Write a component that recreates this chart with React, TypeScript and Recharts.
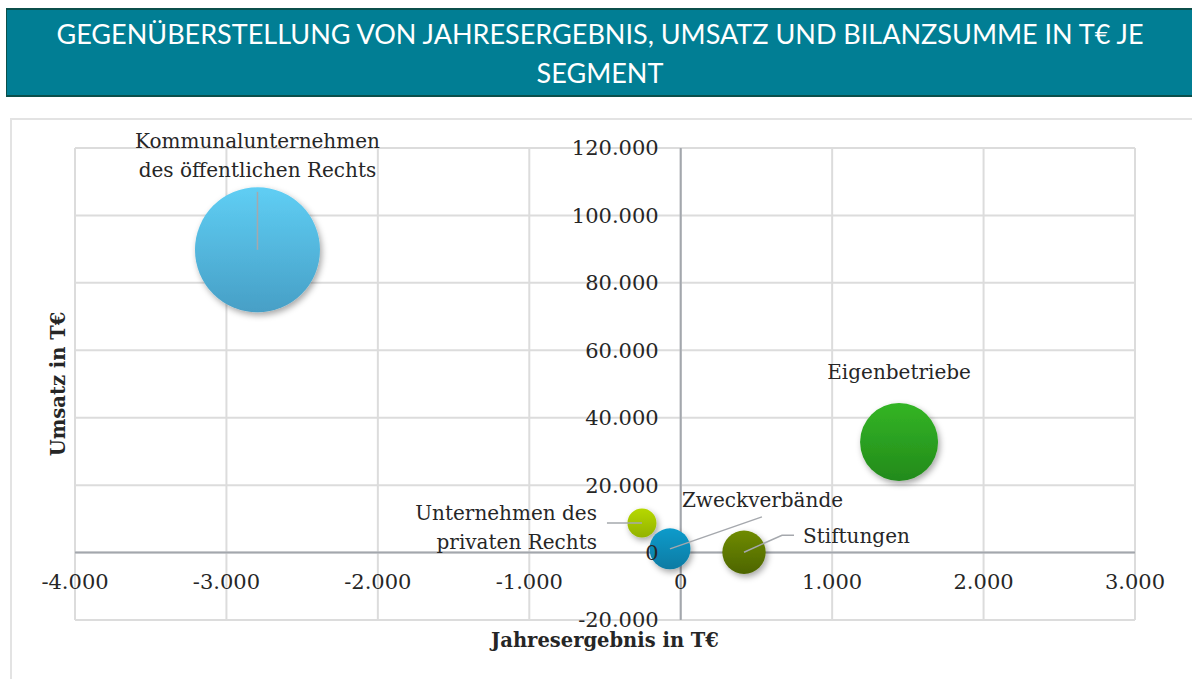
import { ScatterChart, Scatter, XAxis, YAxis, ZAxis, CartesianGrid, ReferenceLine, ReferenceDot } from 'recharts'

const segments = [
  'Kommunalunternehmen des öffentlichen Rechts',
  'Eigenbetriebe',
  'Unternehmen des privaten Rechts',
  'Zweckverbände',
  'Stiftungen',
]
const jahresergebnis = [-2795, 1442, -256, -71, 418]
const umsatz = [89800, 32800, 8800, 1100, 100]
const bilanzsumme = [930000, 362000, 50000, 100000, 112000]

const xTicks = [-4000, -3000, -2000, -1000, 0, 1000, 2000, 3000]
const yTicks = [-20000, 0, 20000, 40000, 60000, 80000, 100000, 120000]

const colors = [
  ['#5fcef4', '#479fc6'],
  ['#33b525', '#238a1b'],
  ['#b6d800', '#93b300'],
  ['#0d9bcb', '#0a7ba3'],
  ['#6f8b00', '#4d6500'],
]

// label lines and text placement relative to bubble centre
const labelLayout = [
  { lines: ['Kommunalunternehmen', 'des öffentlichen Rechts'], dx: 0, dy: -102, anchor: 'middle', leader: [[0, 0], [0, -58]] },
  { lines: ['Eigenbetriebe'], dx: 0, dy: -63, anchor: 'middle', leader: null },
  { lines: ['Unternehmen des', 'privaten Rechts'], dx: -45, dy: -3, anchor: 'end', leader: [[0, 0], [-35, 0]] },
  { lines: ['Zweckverbände'], dx: 12, dy: -42, anchor: 'start', leader: [[0, 0], [92, -32]] },
  { lines: ['Stiftungen'], dx: 59, dy: -9, anchor: 'start', leader: [[0, 0], [38, -17], [50, -17]] },
]

const data = segments.map((name, i) => ({ name, x: jahresergebnis[i], y: umsatz[i], z: bilanzsumme[i], i }))

const fmt = (v: number) => {
  const s = String(Math.abs(v)).replace(/\B(?=(\d{3})+(?!\d))/g, '.')
  return v < 0 ? '-' + s : s
}

const FONT = '"DejaVu Serif", serif'

function Bubble(props: any) {
  const { cx, cy, width, payload } = props
  const i = payload.i
  const r = width / 2
  const lay = labelLayout[i]
  return (
    <g>
      <circle cx={cx} cy={cy} r={r} fill={`url(#bg${i})`} filter="url(#shadow)" />
      {lay.leader && (
        <polyline
          points={lay.leader.map(([a, b]) => `${cx + a},${cy + b}`).join(' ')}
          fill="none" stroke="#a5a8ad" strokeWidth={1.5}
        />
      )}
      <text x={cx + lay.dx} y={cy + lay.dy} textAnchor={lay.anchor} fontFamily={FONT} fontSize={20} fill="#262626">
        {lay.lines.map((l, k) => (
          <tspan key={k} x={cx + lay.dx} dy={k === 0 ? 0 : 29}>{l}</tspan>
        ))}
      </text>
    </g>
  )
}

export default function App() {
  return (
    <div style={{ position: 'absolute', left: 0, top: 0, width: 1192, height: 679, overflow: 'hidden', background: '#fff' }}>
      <div style={{
        position: 'absolute', left: 6, top: 8, width: 1190, height: 89, background: '#017e94',
        borderTop: '2px solid #0b4f4b', borderBottom: '2px solid #0b4f4b', borderLeft: '1px solid #0b4f4b',
        color: '#fff', fontFamily: 'Lato, sans-serif', fontSize: 27, lineHeight: '39px', textAlign: 'center',
        paddingTop: 4, boxSizing: 'border-box',
      }}>
        <div style={{ width: 1186 }}>GEGENÜBERSTELLUNG VON JAHRESERGEBNIS, UMSATZ UND BILANZSUMME IN T€ JE<br />SEGMENT</div>
      </div>
      <div style={{ position: 'absolute', left: 10, top: 118, width: 1200, height: 600, border: '2px solid #e3e3e3' }} />
      <div style={{ position: 'absolute', top: 100, left: 0 }}>
        <ScatterChart width={1192} height={579} margin={{ top: 48, right: 57, bottom: 59, left: 75 }}>
          <defs>
            {colors.map((c, i) => (
              <linearGradient key={i} id={`bg${i}`} x1="0" y1="0" x2="0" y2="1">
                <stop offset="0%" stopColor={c[0]} />
                <stop offset="100%" stopColor={c[1]} />
              </linearGradient>
            ))}
            <filter id="shadow" x="-30%" y="-30%" width="160%" height="160%">
              <feDropShadow dx="2" dy="3" stdDeviation="3" floodColor="#000" floodOpacity="0.35" />
            </filter>
          </defs>
          <CartesianGrid stroke="#dcdcdc" strokeWidth={2} />
          <XAxis type="number" dataKey="x" domain={[-4000, 3000]} ticks={xTicks} hide />
          <YAxis type="number" dataKey="y" domain={[-20000, 120000]} ticks={yTicks} hide />
          <ZAxis type="number" dataKey="z" domain={[0, 930000]} range={[0, Math.PI * 62.5 * 62.5]} />
          <ReferenceLine x={0} stroke="#a3a7ad" strokeWidth={2} />
          <ReferenceLine y={0} stroke="#a3a7ad" strokeWidth={2} />
          {yTicks.map((v) => (
            <ReferenceDot key={'y' + v} x={0} y={v} r={0} stroke="none" fill="none"
              label={{ value: fmt(v), position: 'left', offset: 22, fontFamily: FONT, fontSize: 21, fill: '#262626' }} />
          ))}
          {xTicks.map((v) => (
            <ReferenceDot key={'x' + v} x={v} y={0} r={0} stroke="none" fill="none"
              label={{ value: fmt(v), position: 'bottom', offset: 22, fontFamily: FONT, fontSize: 21, fill: '#262626' }} />
          ))}
          <Scatter data={data} shape={Bubble} isAnimationActive={false} />
        </ScatterChart>
      </div>
      <div style={{
        position: 'absolute', left: 58, top: 384, transform: 'translate(-50%, -50%) rotate(-90deg)', whiteSpace: 'nowrap',
        fontFamily: FONT, fontWeight: 'bold', fontSize: 19.5, color: '#262626',
      }}>Umsatz in T€</div>
      <div style={{
        position: 'absolute', left: 605, top: 640, transform: 'translate(-50%, -50%)', whiteSpace: 'nowrap',
        fontFamily: FONT, fontWeight: 'bold', fontSize: 19.5, color: '#262626',
      }}>Jahresergebnis in T€</div>
    </div>
  )
}
